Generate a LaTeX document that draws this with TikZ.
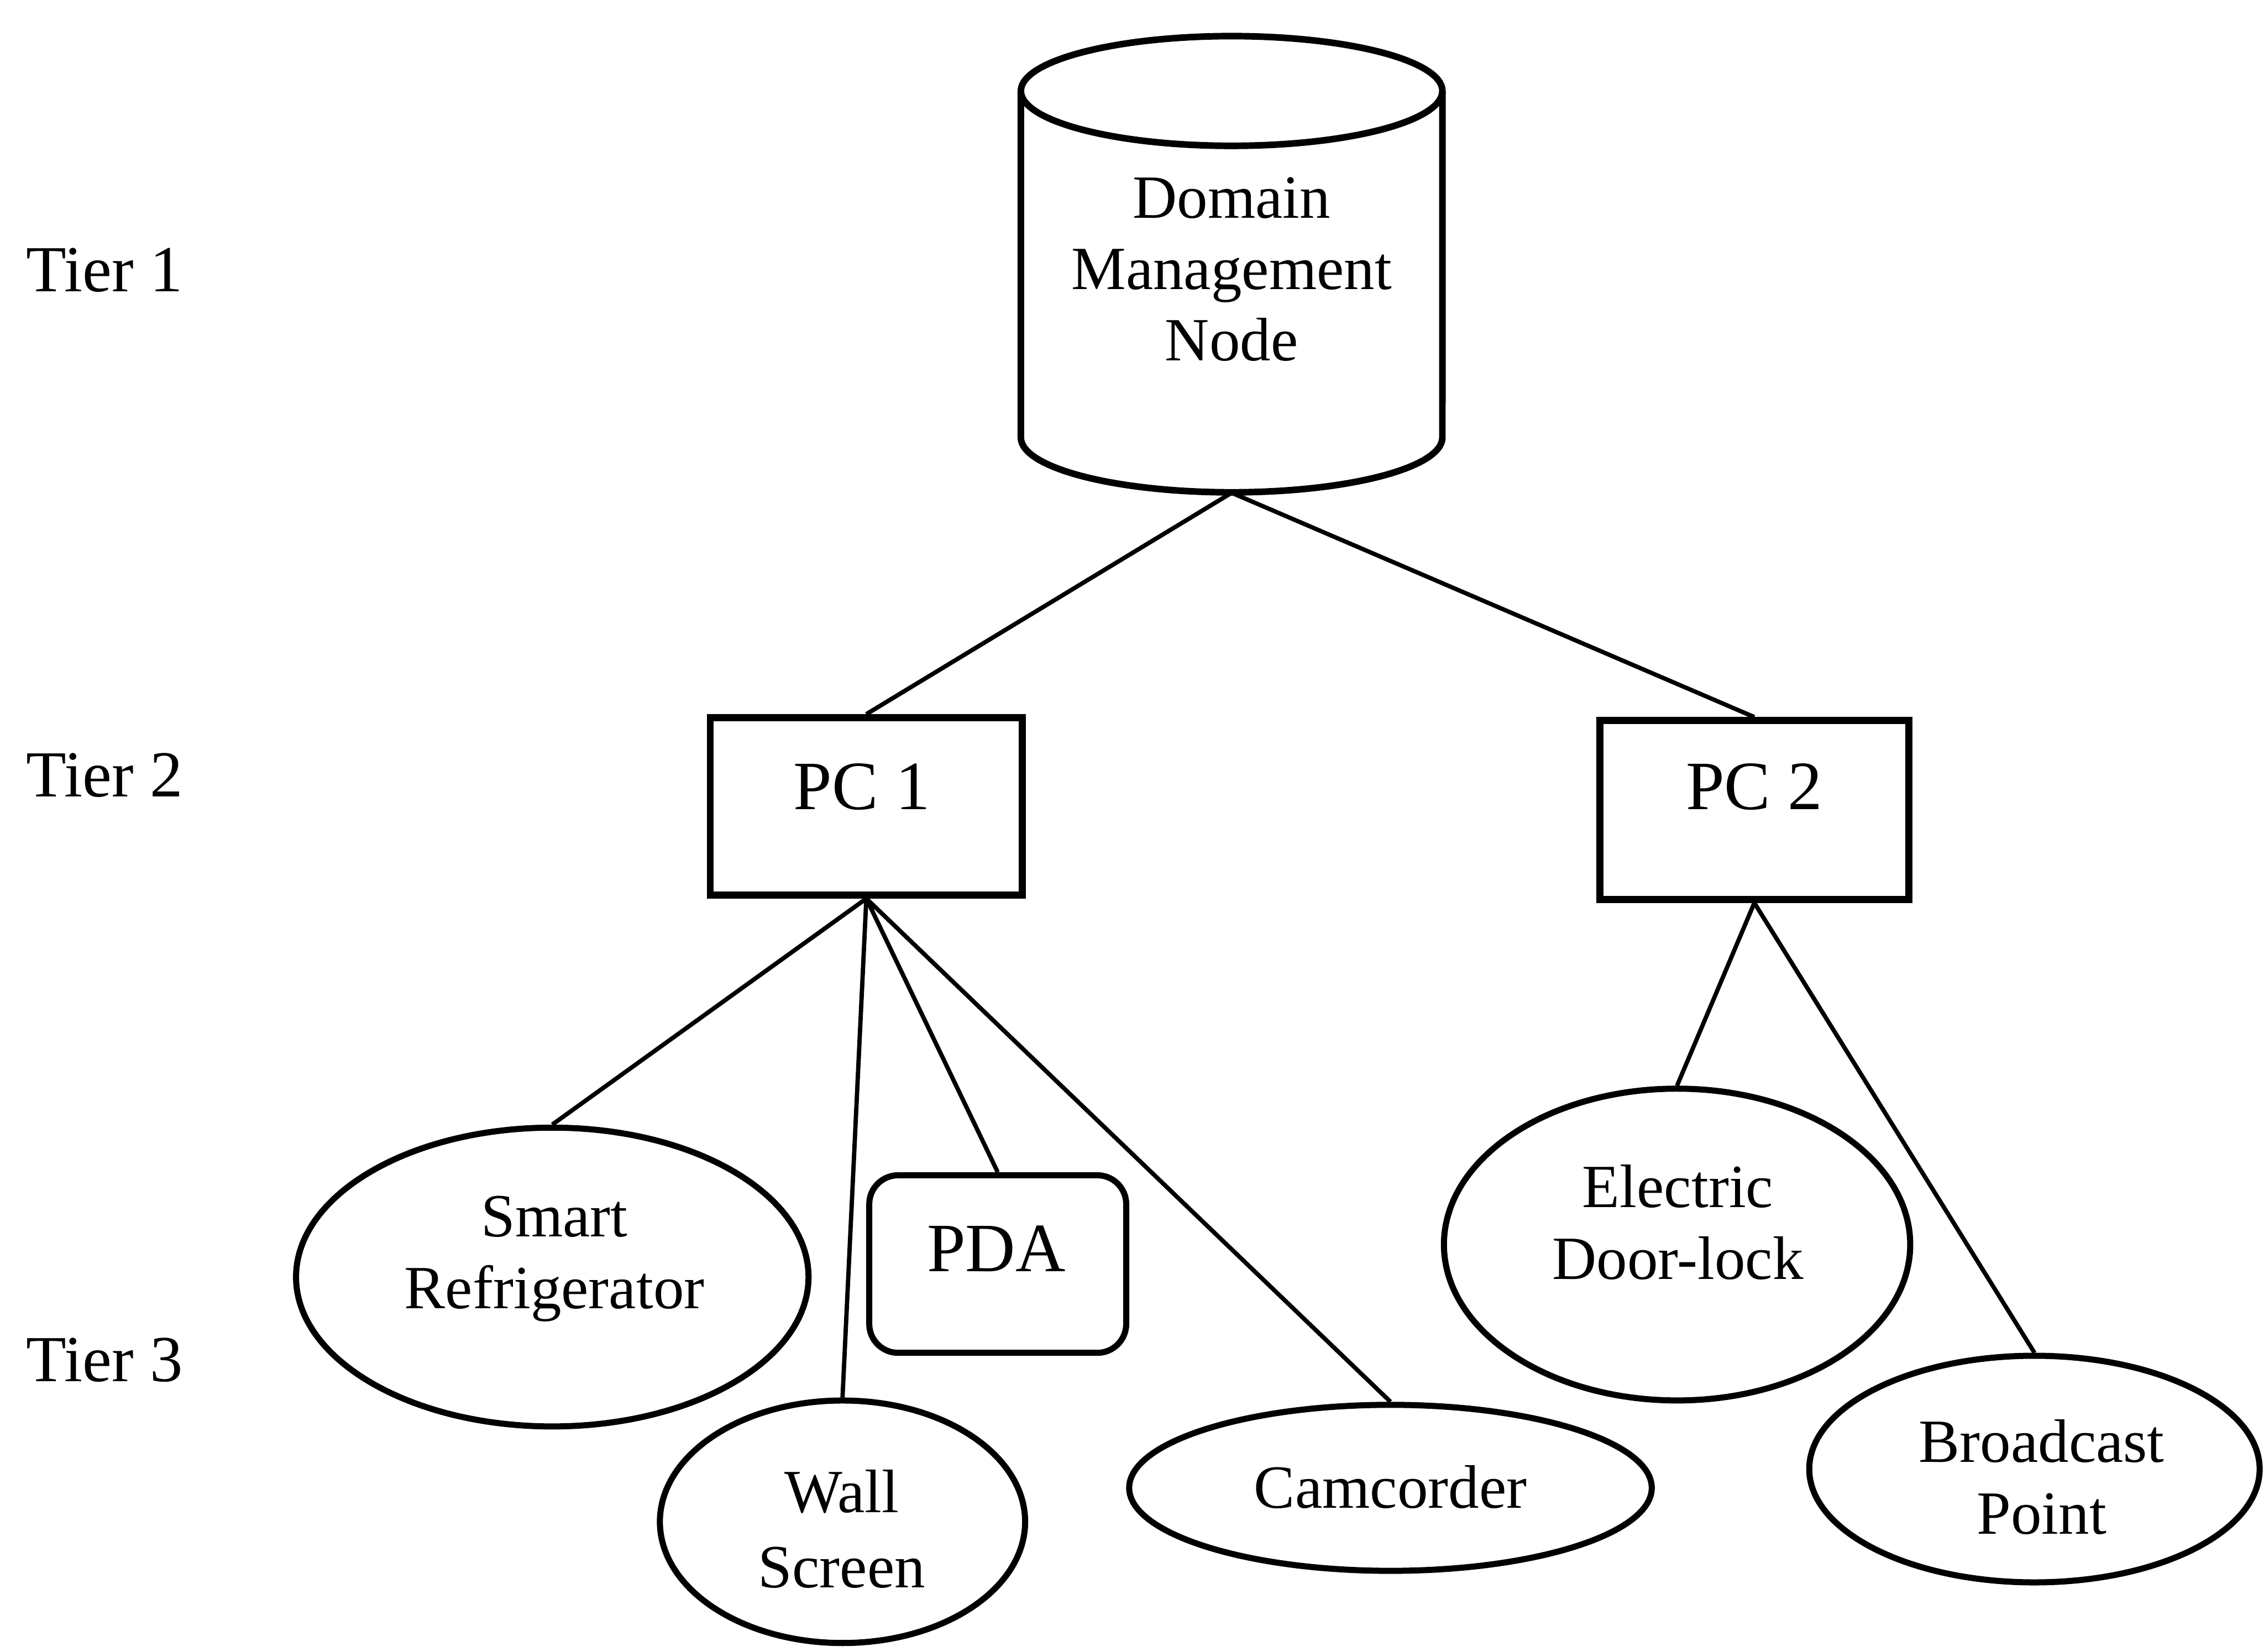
\documentclass[tikz,border=0pt]{standalone}
\usepackage{fontspec}
\setmainfont{Liberation Serif}
\usetikzlibrary{shapes.geometric}
\begin{document}
\begin{tikzpicture}[x=0.02cm,y=-0.02cm,
  txt/.style={font=\fontsize{24.2}{28.4}\selectfont, align=center, inner sep=0pt},
  big/.style={font=\fontsize{27.3}{30}\selectfont, inner sep=0pt},
  tier/.style={font=\fontsize{25.9}{30}\selectfont, inner sep=0pt, anchor=west},
  pcbox/.style={draw, line width=2.7pt, inner sep=0pt},
  pdabox/.style={draw, line width=2.4pt, rounded corners=0.4cm, inner sep=0pt},
  dev/.style={draw, ellipse, line width=2.4pt, inner sep=0pt},
  cyl/.style={line width=2.6pt},
  link/.style={line width=1.7pt}]
\useasboundingbox (0,0) rectangle (1568,1144);

% Tier labels
\node[tier] (t1) at (18,187) {Tier 1};
\node[tier] (t2) at (18,537) {Tier 2};
\node[tier] (t3) at (18,942) {Tier 3};

% Domain management node (cylinder)
\node[minimum width=5.84cm, minimum height=6.32cm, inner sep=0pt] (dmn) at (853,183) {};
\draw[cyl] (853,63) ellipse [x radius=2.92cm, y radius=0.76cm];
\draw[cyl] (707,63) -- (707,303) arc[start angle=180, end angle=360, x radius=2.92cm, y radius=0.76cm] -- (999,63);
\node[txt, font=\fontsize{24.2}{28.2}\selectfont] (dmnt) at (853,186.5) {Domain\\Management\\Node};

% Tier 2
\node[pcbox, minimum width=4.32cm, minimum height=2.46cm] (pc1) at (600,558.5) {};
\node[big] (pc1t) at (597,545) {PC 1};
\node[pcbox, minimum width=4.28cm, minimum height=2.48cm] (pc2) at (1215,561) {};
\node[big] (pc2t) at (1215,545) {PC 2};

% Tier 3
\node[dev, minimum width=7.1cm, minimum height=4.14cm] (sr) at (382.5,884.5) {};
\node[txt] (srt) at (384,872) {Smart\\Refrigerator};
\node[dev, minimum width=5.06cm, minimum height=3.36cm] (ws) at (583.5,1054) {};
\node[txt, font=\fontsize{24.2}{29.6}\selectfont] (wst) at (583,1059) {Wall\\Screen};
\node[pdabox, minimum width=3.56cm, minimum height=2.46cm] (pda) at (691,875.5) {};
\node[big] (pdat) at (690,865) {PDA};
\node[dev, minimum width=7.24cm, minimum height=2.3cm] (cam) at (963,1030.5) {};
\node[txt] (camt) at (963,1030) {Camcorder};
\node[dev, minimum width=6.46cm, minimum height=4.32cm] (edl) at (1161.5,862) {};
\node[txt] (edlt) at (1162,846.5) {Electric\\Door-lock};
\node[dev, minimum width=6.24cm, minimum height=3.14cm] (bp) at (1409,1017.5) {};
\node[txt] (bpt) at (1414,1023) {Broadcast\\Point};

% Connectors
\draw[link] (dmn.south) -- (pc1.north);
\draw[link] (dmn.south) -- (pc2.north);
\draw[link] (pc1.south) -- (sr.north);
\draw[link] (pc1.south) -- (ws.north);
\draw[link] (pc1.south) -- (pda.north);
\draw[link] (pc1.south) -- (cam.north);
\draw[link] (pc2.south) -- (edl.north);
\draw[link] (pc2.south) -- (bp.north);
\end{tikzpicture}
\end{document}
